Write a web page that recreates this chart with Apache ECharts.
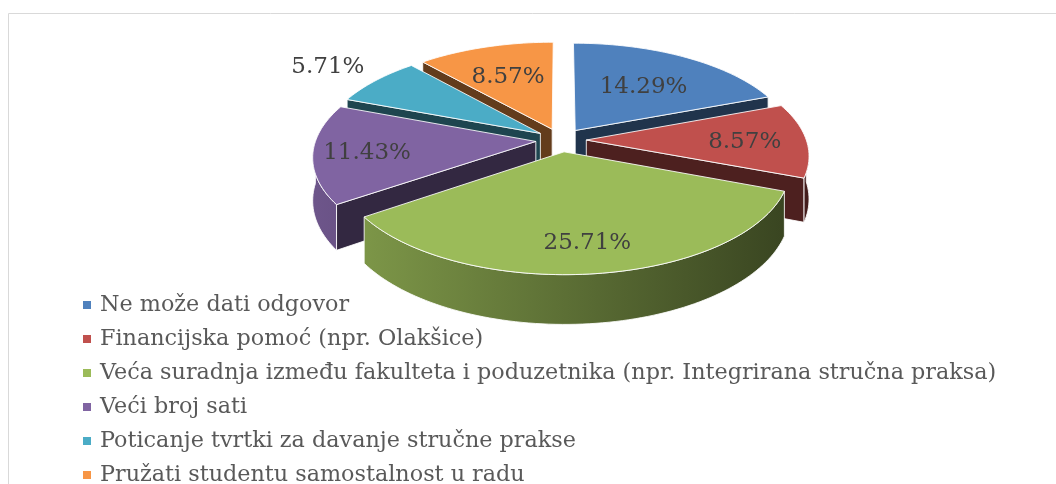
<!DOCTYPE html>
<html>
<head>
<meta charset="utf-8">
<title>Pie 3D</title>
<script src="https://cdn.jsdelivr.net/npm/echarts@6/dist/echarts.min.js"></script>
<style>
  html, body { margin: 0; padding: 0; background: #fff; }
  #chart { width: 1056px; height: 484px; }
</style>
</head>
<body>
<div id="chart"></div>
<script>
var categories = [
  "Ne može dati odgovor",
  "Financijska pomoć (npr. Olakšice)",
  "Veća suradnja između fakulteta i poduzetnika (npr. Integrirana stručna praksa)",
  "Veći broj sati",
  "Poticanje tvrtki za davanje stručne prakse",
  "Pružati studentu samostalnost u radu"
];
var percentages = [14.29, 8.57, 25.71, 11.43, 5.71, 8.57];
var colors = ["#4F81BD", "#C0504D", "#9BBB59", "#8064A2", "#4BACC6", "#F79646"];

var FONT = "DejaVu Serif";
// tilted pie: centre, radii, perspective, explosion, thickness
var cx = 561, cy = 140, rx = 220, ry = 102, persp = 0.14, explode = 0.115, depth = 42;
var labelRadius = [0.6, 0.72, 0.76, 0.76, 1.32, 0.63];

function rad(d) { return d * Math.PI / 180; }
function shade(hex, f) {
  var n = parseInt(hex.slice(1), 16);
  var r = Math.round(((n >> 16) & 255) * f), g = Math.round(((n >> 8) & 255) * f), b = Math.round((n & 255) * f);
  return "rgb(" + r + "," + g + "," + b + ")";
}
function wallGradient(base) {
  return {
    type: "linear", x: 316, y: 0, x2: 806, y2: 0, global: true,
    colorStops: [{ offset: 0, color: shade(base, 0.85) }, { offset: 1, color: shade(base, 0.35) }]
  };
}
function project(u, v, h) {
  var w = 1 + persp * v;
  return [cx + rx * u / w, cy - ry * v / w + h * depth / w];
}

var total = percentages.reduce(function (a, b) { return a + b; }, 0);
var slices = [];
var start = 90;
percentages.forEach(function (v) {
  var sweep = v / total * 360;
  slices.push({ a1: start, a2: start - sweep, mid: start - sweep / 2 });
  start -= sweep;
});
// back to front
var order = slices.map(function (s, i) { return i; }).sort(function (a, b) {
  return Math.sin(rad(slices[b].mid)) - Math.sin(rad(slices[a].mid));
});
var rank = slices.map(function (s, i) { return order.indexOf(i); });

function renderSlice(i) {
  return function (params, api) {
    var s = slices[i];
    var m = rad(s.mid);
    var ox = explode * Math.cos(m), oy = explode * Math.sin(m);
    function pt(r, deg, h) {
      var a = rad(deg);
      return project(ox + r * Math.cos(a), oy + r * Math.sin(a), h);
    }
    function arc(from, to, h) {
      var pts = [];
      var n = Math.max(2, Math.ceil((from - to) / 1.5));
      for (var k = 0; k <= n; k++) pts.push(pt(1, from - (from - to) * k / n, h));
      return pts;
    }
    var base = colors[i];
    var z = rank[i] * 10;
    var edge = { stroke: "rgba(255,255,255,0.85)", lineWidth: 1, lineJoin: "round" };
    var children = [];
    // cut faces
    [[s.a1, 90], [s.a2, -90]].forEach(function (f) {
      if (Math.sin(rad(f[0] + f[1])) < -0.02) {
        children.push({
          type: "polygon", z2: z + 1,
          shape: { points: [pt(0, f[0], 0), pt(1, f[0], 0), pt(1, f[0], 1), pt(0, f[0], 1)] },
          style: Object.assign({ fill: shade(base, 0.4) }, edge)
        });
      }
    });
    // outer wall, front half only
    var hi = Math.min(s.a1, 0), lo = Math.max(s.a2, -180);
    if (hi > lo) {
      children.push({
        type: "polygon", z2: z + 2,
        shape: { points: arc(hi, lo, 0).concat(arc(hi, lo, 1).reverse()) },
        style: Object.assign({ fill: wallGradient(base) }, edge)
      });
    }
    // top
    children.push({
      type: "polygon", z2: z + 5,
      shape: { points: [pt(0, s.a1, 0)].concat(arc(s.a1, s.a2, 0)) },
      style: Object.assign({ fill: base }, edge)
    });
    var lp = pt(labelRadius[i], s.mid, 0);
    children.push({
      type: "text", z2: 200, x: lp[0], y: lp[1] + 2,
      style: {
        text: api.value(0).toFixed(2) + "%", fill: "#404040",
        font: "23px '" + FONT + "'", align: "center", verticalAlign: "middle"
      }
    });
    return { type: "group", children: children };
  };
}

var chart = echarts.init(document.getElementById("chart"));
var option = {
  animation: false,
  color: colors,
  graphic: [{
    type: "rect", z: -10, silent: true,
    shape: { x: 8.5, y: 13.5, width: 1200, height: 600 },
    style: { fill: "none", stroke: "#d9d9d9", lineWidth: 1 }
  }],
  legend: {
    orient: "vertical",
    left: 78,
    top: 288,
    height: 260,
    icon: "rect",
    itemWidth: 8,
    itemHeight: 8,
    itemGap: 10,
    selectedMode: false,
    textStyle: { fontFamily: FONT, fontSize: 22.3, lineHeight: 24, color: "#595959", padding: [0, 0, 0, 4] },
    data: categories
  },
  series: categories.map(function (name, i) {
    return {
      type: "custom",
      name: name,
      coordinateSystem: "none",
      silent: true,
      itemStyle: { color: colors[i] },
      data: [[percentages[i]]],
      renderItem: renderSlice(i)
    };
  })
};
chart.setOption(option);
</script>
</body>
</html>
